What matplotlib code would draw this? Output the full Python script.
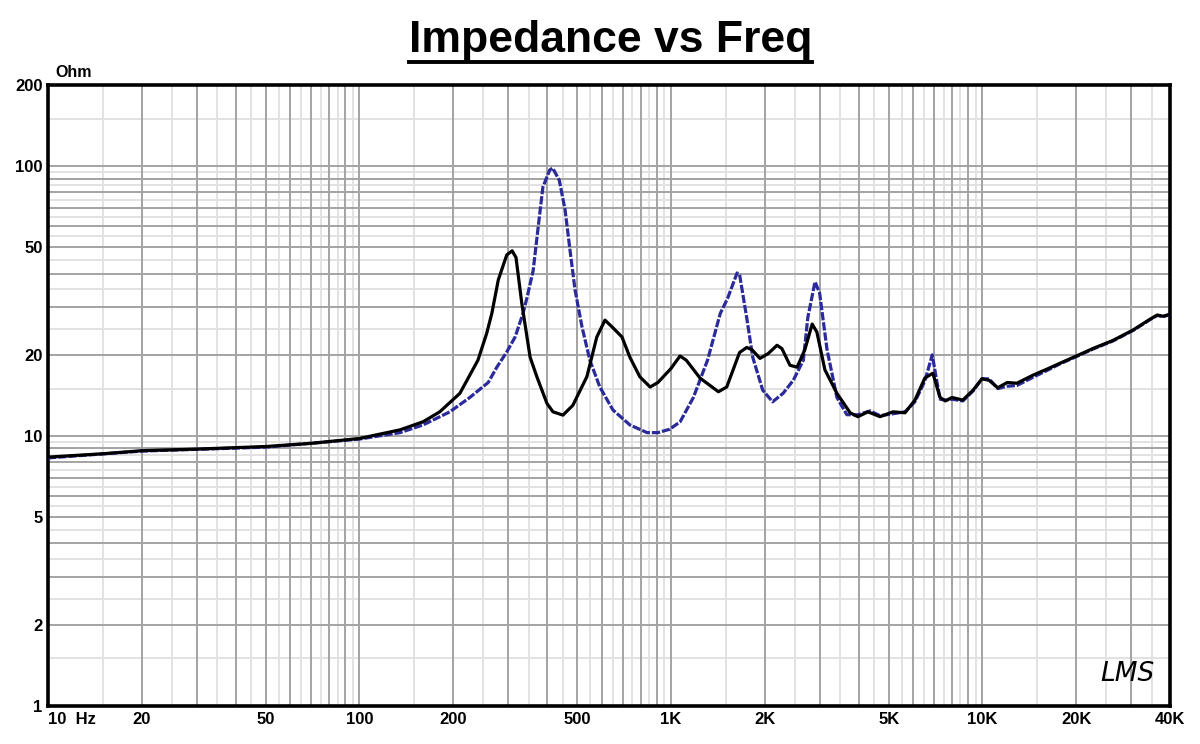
import matplotlib
matplotlib.use('Agg')
import matplotlib.pyplot as plt
import numpy as np
from matplotlib.lines import Line2D

# curve 1 (black, solid)
freq_black = [10, 15, 20, 30, 50, 70, 100, 135, 160, 181, 210, 240, 256, 266, 279, 297, 309, 318,
              332, 353, 371, 400, 418, 450, 484, 537, 578, 614, 651, 696, 738, 794, 857, 908, 1000,
              1069, 1120, 1240, 1420, 1510, 1660, 1750, 1820, 1930, 2050, 2190, 2270, 2410, 2540,
              2690, 2840, 2940, 3120, 3410, 3760, 3980, 4290, 4690, 5160, 5640, 6070, 6530, 6930,
              7310, 7600, 7980, 8650, 9330, 9960, 10500, 11200, 12000, 12900, 14500, 16100, 17700,
              20600, 22600, 26200, 30400, 34500, 36400, 38000, 40000]
z_black = [8.36, 8.6, 8.83, 8.95, 9.15, 9.4, 9.8, 10.55, 11.3, 12.3, 14.4, 19.1, 24.0, 28.5, 37.9,
           46.9, 48.6, 45.9, 31.0, 19.6, 16.6, 13.2, 12.3, 11.96, 13.0, 16.6, 23.3, 26.9, 25.2, 23.3,
           19.6, 16.6, 15.2, 15.8, 17.8, 19.8, 19.1, 16.4, 14.6, 15.2, 20.4, 21.3, 20.9, 19.4, 20.2,
           21.7, 21.1, 18.3, 18.0, 20.9, 26.0, 24.3, 17.6, 14.4, 12.2, 11.8, 12.3, 11.8, 12.3, 12.2,
           13.6, 16.4, 17.1, 13.9, 13.5, 13.9, 13.6, 14.8, 16.3, 16.1, 15.1, 15.8, 15.7, 16.8, 17.7,
           18.6, 20.1, 21.1, 22.6, 24.7, 27.1, 28.1, 27.8, 28.3]

# curve 2 (blue, dashed)
freq_blue = [10, 20, 50, 100, 135, 160, 195, 226, 259, 276, 297, 316, 335, 345, 361, 375, 388, 408,
             417, 438, 457, 475, 492, 518, 549, 591, 651, 738, 838, 908, 990, 1070, 1180, 1310, 1440,
             1520, 1630, 1660, 1750, 1830, 1970, 2120, 2290, 2470, 2660, 2750, 2900, 3000, 3170, 3410,
             3670, 3980, 4360, 4690, 5160, 5640, 6070, 6530, 6900, 7100, 7310, 7600, 7980, 8650,
             9330, 9960, 10500, 11200, 12000, 12900, 14500, 16100, 17700, 20600, 22600, 26200,
             30400, 34500, 36400, 38000, 40000]
z_blue = [8.3, 8.8, 9.1, 9.75, 10.3, 11.0, 12.3, 13.9, 15.8, 18.0, 20.5, 23.3, 28.5, 32.6, 41.0,
          60.0, 83.7, 96.8, 98.5, 88.7, 69.0, 48.0, 34.8, 25.4, 19.1, 15.2, 12.5, 11.0, 10.3, 10.3,
          10.6, 11.3, 13.9, 19.1, 28.5, 32.4, 40.2, 39.8, 27.5, 19.6, 14.8, 13.4, 14.4, 16.1, 19.1,
          27.5, 37.3, 33.9, 20.9, 13.9, 12.0, 12.0, 12.4, 11.9, 12.1, 12.3, 13.4, 16.0, 20.0, 16.5,
          13.7, 13.6, 13.7, 13.5, 14.7, 16.3, 16.3, 15.0, 15.3, 15.4, 16.5, 17.5, 18.5, 20.0, 21.0,
          22.5, 24.6, 27.0, 28.0, 27.7, 28.2]

x_tick_vals = [10, 20, 50, 100, 200, 500, 1000, 2000, 5000, 10000, 20000, 40000]
x_tick_text = ['10  Hz', '20', '50', '100', '200', '500', '1K', '2K', '5K', '10K', '20K', '40K']
y_tick_vals = [1, 2, 5, 10, 20, 50, 100, 200]
y_tick_text = ['1', '2', '5', '10', '20', '50', '100', '200']

plt.rcParams['font.family'] = ['Liberation Sans', 'DejaVu Sans']

fig = plt.figure(figsize=(12, 7.44), dpi=100)
ax = fig.add_axes([0.04, 0.0511, 0.935, 0.8347])
ax.set_xscale('log')
ax.set_yscale('log')
ax.set_xlim(10, 40000)
ax.set_ylim(1, 200)

# grid: dark at integer multiples, light at half steps
for dec in [10, 100, 1000, 10000]:
    for m in np.arange(1, 10, 0.5):
        v = m * dec
        if 10 < v < 40000:
            c = '#a3a3a3' if m == int(m) else '#e2e2e2'
            ax.axvline(v, color=c, lw=1.4, zorder=1 if m == int(m) else 0)
for dec in [1, 10, 100]:
    for m in np.arange(1, 10, 0.5):
        v = m * dec
        if 1 < v < 200:
            c = '#a3a3a3' if m == int(m) else '#e2e2e2'
            ax.axhline(v, color=c, lw=1.4, zorder=1 if m == int(m) else 0)

ax.plot(freq_blue, z_blue, color='#2a2a9a', lw=2.3, dashes=(2.6, 0.6), zorder=3)
ax.plot(freq_black, z_black, color='black', lw=2.3, zorder=4)

ax.set_xticks(x_tick_vals, x_tick_text)
ax.set_yticks(y_tick_vals, y_tick_text)
ax.minorticks_off()
ax.tick_params(length=0, labelsize=12, pad=4)
for lab in ax.get_xticklabels() + ax.get_yticklabels():
    lab.set_fontweight('bold')
ax.get_xticklabels()[0].set_horizontalalignment('left')
ax.get_xticklabels()[0].set_x(9.6)
for s in ax.spines.values():
    s.set_linewidth(2.6)
    s.set_color('black')

fig.text(0.046, 0.893, 'Ohm', fontsize=11.5, fontweight='bold', va='bottom')
ax.text(0.986, 0.03, 'LMS', transform=ax.transAxes, fontsize=19, fontstyle='italic',
        family='DejaVu Sans', fontweight='light', ha='right', va='bottom', zorder=5)

title = fig.text(0.509, 0.930, 'Impedance vs Freq', fontsize=32, fontweight='bold',
                 ha='center', va='baseline')
fig.canvas.draw()
bb = title.get_window_extent(fig.canvas.get_renderer())
uy = (bb.y0 - 1) / fig.bbox.height
fig.add_artist(Line2D([bb.x0 / fig.bbox.width, bb.x1 / fig.bbox.width], [uy, uy],
                      color='black', lw=2.8))

fig.savefig('out.png', dpi=100)
